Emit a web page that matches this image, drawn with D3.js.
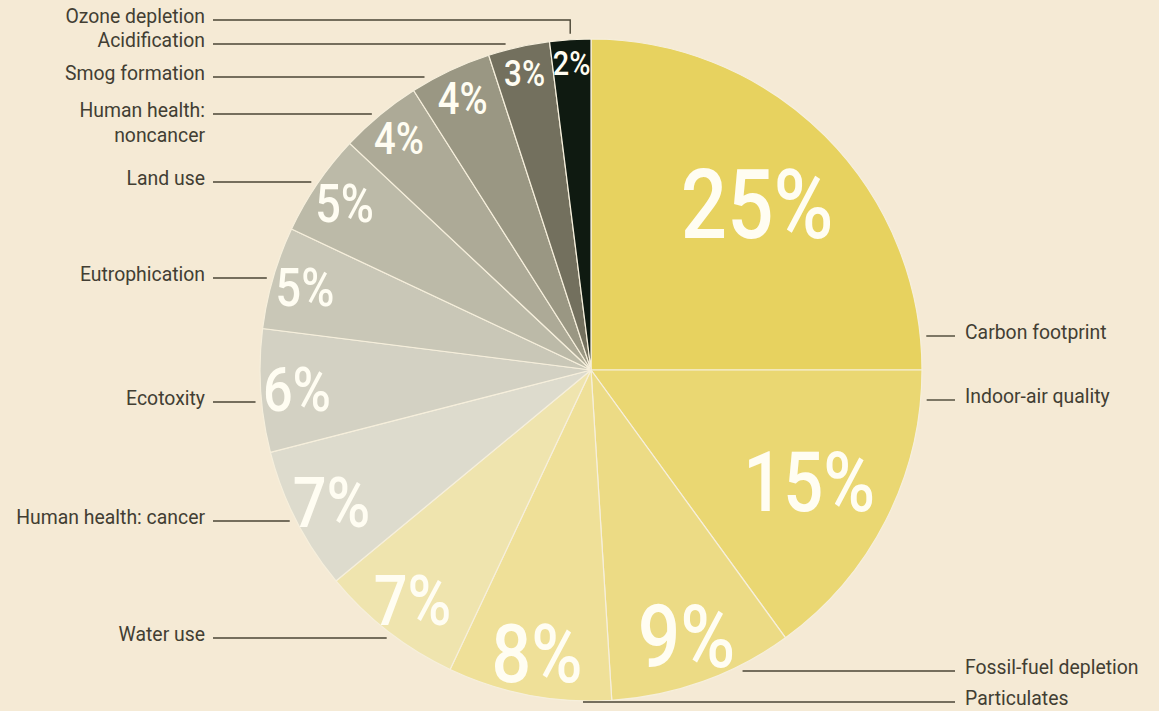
<!DOCTYPE html>
<html>
<head>
<meta charset="utf-8">
<script src="https://cdn.jsdelivr.net/npm/d3@7"></script>
<style>
  html, body { margin: 0; padding: 0; background: #f5ead5; }
  svg { display: block; }
</style>
</head>
<body>
<div id="chart"></div>
<script>
// impact categories, clockwise from 12 o'clock
var categories = ["Carbon footprint", "Indoor-air quality", "Fossil-fuel depletion", "Particulates",
  "Water use", "Human health: cancer", "Ecotoxity", "Eutrophication", "Land use",
  "Human health: noncancer", "Smog formation", "Acidification", "Ozone depletion"];
var shares = [25, 15, 9, 8, 7, 7, 6, 5, 5, 4, 4, 3, 2];
var sliceColors = ["#e7d25f", "#eAd772", "#ecdb85", "#efe098", "#efe4ae", "#dddbcd", "#d3d1c3",
  "#c9c7b7", "#bcbaa8", "#adaa97", "#9a9783", "#73705e", "#0f1a11"];

// label layout (hand placed in the original)
var labelSide = ["right", "right", "right", "right", "left", "left", "left", "left", "left", "left", "left", "left", "left"];
var labelY = [339, 403, 674, 705, 641, 524, 405, 281, 185, 117, 80, 47, 23];

var width = 1159, height = 711;
var cx = 591, cy = 370, radius = 331;

var svg = d3.select('#chart')
  .append('svg')
  .attr('width', width)
  .attr('height', height);

var pie = d3.pie().sort(null).value(function(d) { return d; });
var arc = d3.arc().innerRadius(0).outerRadius(radius);
var arcs = pie(shares);

var g = svg.append('g')
  .attr('transform', `translate(${cx},${cy})`);

g.selectAll('path')
  .data(arcs)
  .enter()
  .append('path')
  .attr('d', arc)
  .attr('fill', function(d, i) { return sliceColors[i]; })
  .attr('stroke', '#f6efdc')
  .attr('stroke-width', 1.2);

// bigger slices get their number nearer the middle, and a bigger number
var labelRadius = d3.scaleLinear().domain([2, 8, 15, 25]).range([0.93, 0.87, 0.74, 0.71]);
var labelSize = d3.scaleLinear()
  .domain([2, 3, 4, 5, 7, 8, 9, 15, 25])
  .range([34, 37, 45, 53, 70, 82, 88, 83, 96]);

g.selectAll('.pct')
  .data(arcs)
  .enter()
  .append('g')
  .attr('class', 'pct')
  .attr('transform', function(d) {
    var a = (d.startAngle + d.endAngle) / 2;
    var r = radius * labelRadius(d.value);
    return `translate(${r * Math.sin(a)},${-r * Math.cos(a)}) scale(0.85,1)`;
  })
  .append('text')
  .attr('text-anchor', 'middle')
  .attr('dy', '0.36em')
  .attr('fill', '#fffdf2')
  .style('font-family', 'Roboto, "Liberation Sans", sans-serif')
  .style('font-weight', 500)
  .style('font-size', function(d) { return labelSize(d.value) + 'px'; })
  .text(function(d) { return d.value + '%'; });

// leader lines and category names
var gap = 6;
var leaders = svg.append('g')
  .attr('stroke', '#4a4535')
  .attr('stroke-width', 1.4)
  .attr('fill', 'none');

arcs.forEach(function(d, i) {
  var y = labelY[i] - 3;
  var dy = y - cy;
  var reach = Math.sqrt(Math.max(0, (radius + gap) ** 2 - dy ** 2));
  if (labelSide[i] == 'right') {
    // below the pie the line just runs in under it
    var x1 = dy > radius ? cx - 8 : cx + reach;
    leaders.append('line')
      .attr('x1', x1).attr('y1', y)
      .attr('x2', 955).attr('y2', y);
  } else if (i == arcs.length - 1) {
    // the ozone line bends down to its thin slice
    var a = (d.startAngle + d.endAngle) / 2;
    var px = cx + radius * Math.sin(a);
    var py = cy - Math.sqrt((radius + gap) ** 2 - (px - cx) ** 2);
    leaders.append('path')
      .attr('d', `M213,${y}H${px}V${py}`);
  } else {
    leaders.append('line')
      .attr('x1', 213).attr('y1', y)
      .attr('x2', cx - reach).attr('y2', y);
  }
});

var names = svg.selectAll('.name')
  .data(categories)
  .enter()
  .append('g')
  .attr('class', 'name')
  .attr('transform', function(d, i) {
    var x = labelSide[i] == 'right' ? 965 : 205;
    return `translate(${x},${labelY[i]}) scale(0.97,1)`;
  })
  .append('text')
  .attr('text-anchor', function(d, i) { return labelSide[i] == 'right' ? 'start' : 'end'; })
  .attr('fill', '#423e33')
  .style('font-family', 'Roboto, "Liberation Sans", sans-serif')
  .style('font-size', '20px');

names.each(function(d) {
  var t = d3.select(this);
  if (d == 'Human health: noncancer') {
    t.append('tspan').attr('x', 0).text('Human health:');
    t.append('tspan').attr('x', 0).attr('dy', 25).text('noncancer');
  } else {
    t.text(d);
  }
});
</script>
</body>
</html>
